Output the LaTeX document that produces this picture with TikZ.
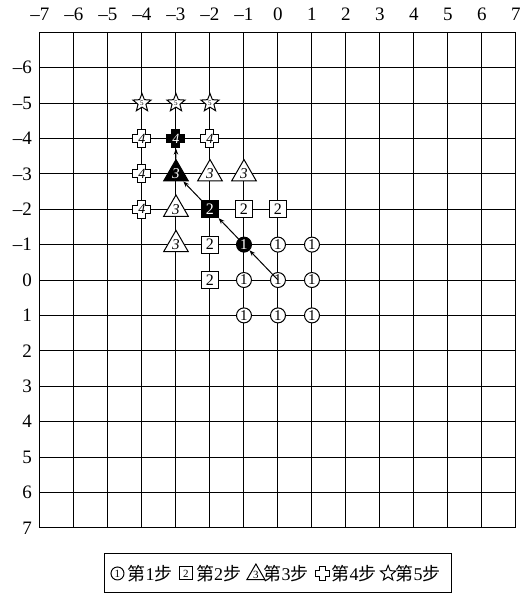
\documentclass[tikz,border=0pt]{standalone}
\usepackage{fontspec}
\setmainfont{Liberation Serif}
\newfontfamily\cjk{Noto Sans CJK SC}
\usetikzlibrary{positioning,arrows.meta,shapes.geometric}
\newcommand\bushu[1]{{\cjk 第}#1{\cjk 步}}
\newcommand\axnum[1]{\ifnum#1<0 –\number\numexpr-#1\relax\else#1\fi}
% plus outline: centre, half size, half arm, fill
\newcommand\plusmark[4]{%
  \draw[line width=1pt, fill=#4, shift={(#1)}]
    (-#2,-#3) -- (-#3,-#3) -- (-#3,-#2) -- (#3,-#2) -- (#3,-#3)
    -- (#2,-#3) -- (#2,#3) -- (#3,#3) -- (#3,#2) -- (-#3,#2)
    -- (-#3,#3) -- (-#2,#3) -- cycle;}

\begin{document}
\begin{tikzpicture}[
  x=34pt, y=-35.4pt,
  >={Stealth[length=6pt,width=4.5pt]},
  grid/.style={line width=1pt},
  ax/.style={font=\fontsize{19}{20}\selectfont, inner sep=1pt},
  one/.style={circle, draw, line width=1pt, fill=white, minimum size=15pt,
              inner sep=0pt, font=\fontsize{15}{15}\selectfont},
  two/.style={rectangle, draw, line width=1pt, fill=white, minimum size=17pt,
              inner sep=0pt, font=\fontsize{16}{16}\selectfont},
  three/.style={regular polygon, regular polygon sides=3, draw, line width=1pt,
              fill=white, minimum size=25pt, inner sep=0pt,
              font=\fontsize{15}{15}\selectfont\itshape},
  four/.style={rectangle, minimum size=20pt, inner sep=0pt,
              font=\fontsize{14}{14}\selectfont\itshape},
  five/.style={star, star points=5, star point ratio=2.3, draw, line width=1pt,
              fill=white, minimum size=19pt, inner sep=0pt,
              font=\fontsize{7}{7}\selectfont},
  hot/.style={fill=black, text=white},
  small/.style={minimum size=#1, font=\fontsize{11}{11}\selectfont},
  legtxt/.style={font=\fontsize{18}{18}\selectfont, inner sep=0pt},
  legbox/.style={draw, line width=1pt, minimum width=347pt, minimum height=39pt},
  arr/.style={->, line width=1pt},
]
\useasboundingbox (-8.176,-7.91) rectangle (7.47,8.87);

% grid
\foreach \i in {-7,...,7}{
  \draw[grid] (\i,-7) -- (\i,7);
  \draw[grid] (-7,\i) -- (7,\i);
}
\foreach \i in {-7,...,7}
  \node[ax] (cx\i) at (\i,-7.51) {\axnum{\i}};
\foreach \j in {-6,...,7}
  \node[ax, anchor=east] (ry\j) at (-7.2,\j) {\axnum{\j}};

% step 1
\foreach \x/\y/\n in {0/-1/a1, 1/-1/a2, -1/0/a3, 1/0/a4, -1/1/a5, 0/1/a6, 1/1/a7}
  \node[one] (\n) at (\x,\y) {1};
\node[one] (a0) at (0,0) {1};
\node[one, hot] (h1) at (-1,-1) {1};
% step 2
\foreach \x/\y/\n in {-1/-2/b1, 0/-2/b2, -2/-1/b3, -2/0/b4}
  \node[two] (\n) at (\x,\y) {2};
\node[two, hot] (h2) at (-2,-2) {2};
% step 3
\foreach \x/\y/\n in {-2/-3/t1, -1/-3/t2, -3/-2/t3, -3/-1/t4}
  \node[three] (\n) at (\x,\y) {3};
\node[three, hot] (h3) at (-3,-3) {3};
% step 4
\foreach \x/\y/\n in {-2/-4/f1, -4/-4/f2, -4/-3/f3, -4/-2/f4}{
  \plusmark{\x,\y}{9pt}{4pt}{white}
  \node[four] (\n) at (\x,\y) {4};
}
\plusmark{-3,-4}{9pt}{4pt}{black}
\node[four, text=white] (h4) at (-3,-4) {4};
% step 5
\foreach \x/\n in {-4/s1, -3/s2, -2/s3}
  \node[five] (\n) at (\x,-5) {5};

% path of the filled markers
\draw[arr] (a0.center) -- (h1);
\draw[arr] (h1) -- (h2);
\draw[arr] (h2) -- (h3);
\draw[arr] (h3) -- (h4);

% legend
\node[legbox] (leg) at (0.015,8.29) {};
\node[one, small=13pt] (lm1) at ([xshift=13pt]leg.west) {1};
\node[legtxt, right=3pt of lm1] (lt1) {\bushu{1}};
\node[two, small=13pt, right=6pt of lt1] (lm2) {2};
\node[legtxt, right=3pt of lm2] (lt2) {\bushu{2}};
\node[three, small=19pt, right=8pt of lt2, yshift=-1pt] (lm3) {3};
\node[legtxt, right=1pt of lm3, yshift=1pt] (lt3) {\bushu{3}};
\node[four, minimum size=16pt, right=5pt of lt3] (lm4) {};
\plusmark{lm4.center}{7pt}{3pt}{white}
\node[legtxt, right=1pt of lm4] (lt4) {\bushu{4}};
\node[five, minimum size=16pt, right=6pt of lt4] (lm5) {};
\node[legtxt, right=2pt of lm5] (lt5) {\bushu{5}};

\end{tikzpicture}
\end{document}
